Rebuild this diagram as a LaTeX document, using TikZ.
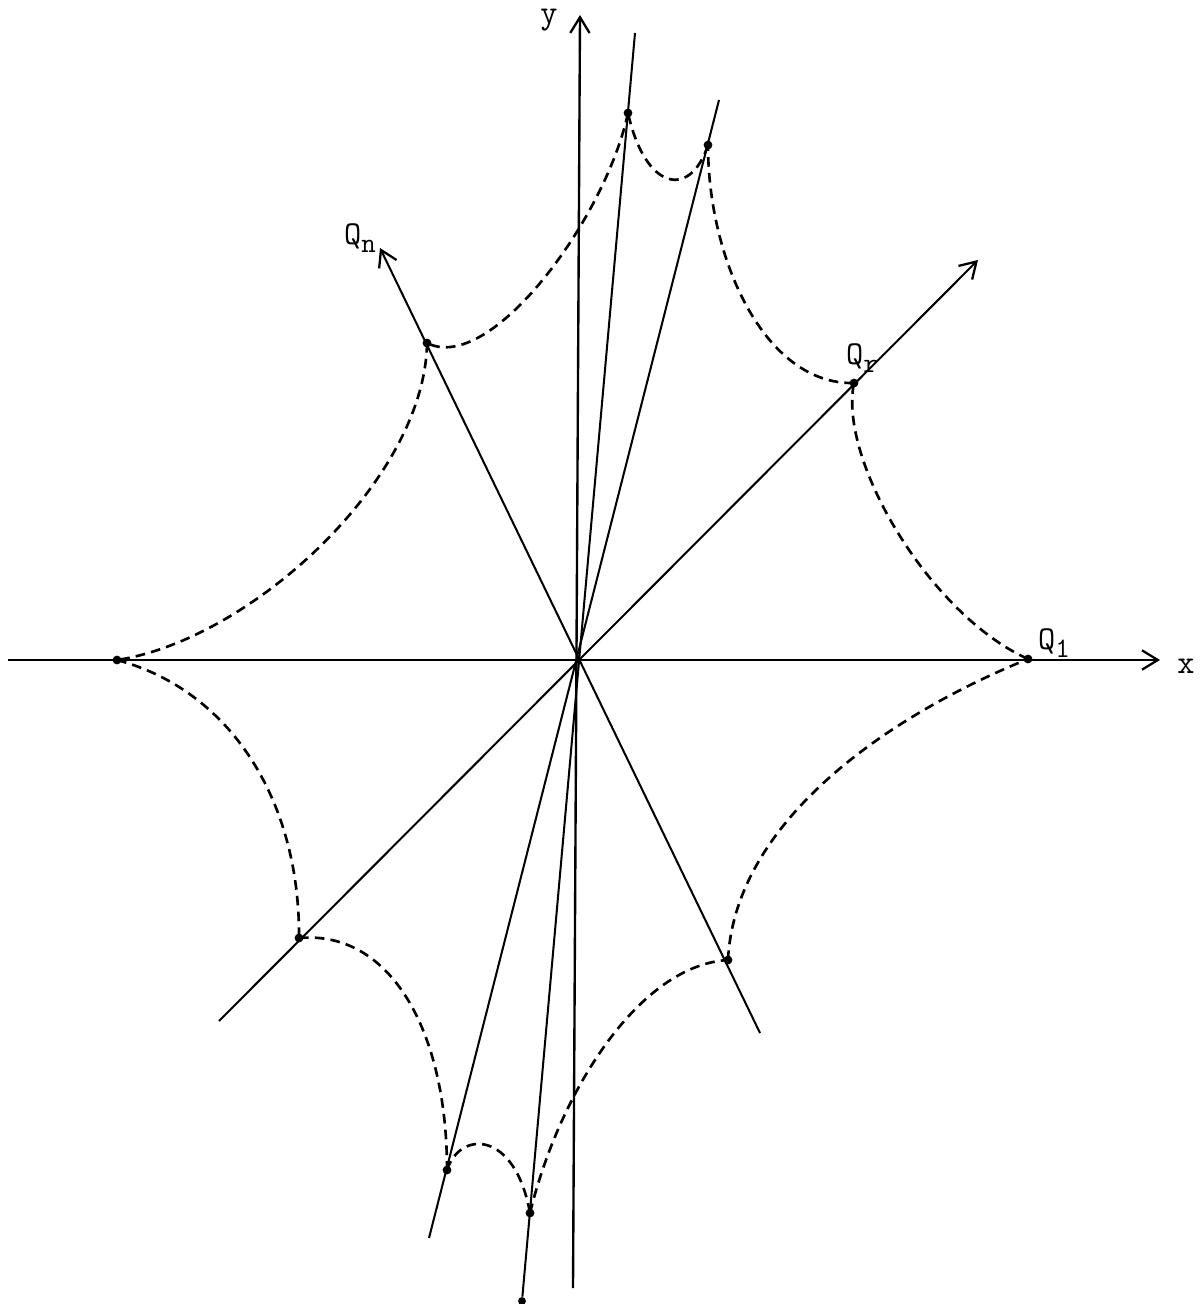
\documentclass[tikz,border=0pt]{standalone}
\usepackage{tikz}
\usetikzlibrary{arrows.meta,calc}
\newcommand{\qlab}[1]{Q\raisebox{-0.55ex}{\fontsize{16}{16}\selectfont #1}}

\begin{document}
\begin{tikzpicture}[x=0.02cm, y=-0.02cm,
    axis/.style={line width=1.35pt, -{Straight Barb[length=9pt,width=11pt,line width=1.3pt]}},
    ray/.style={line width=1.15pt},
    cusp/.style={line width=1.5pt, dash pattern=on 5.5pt off 3.5pt},
    pt/.style={circle, fill, inner sep=0pt, minimum size=5pt},
    lab/.style={font=\ttfamily\fontsize{19}{19}\selectfont}]
      \useasboundingbox (0,0) rectangle (1200,1304);
      % Axes and rays through the origin
      \coordinate (O) at (577,660);
      \coordinate (xs) at (8,660);
      \coordinate (xe) at (1160,660);
      \coordinate (ys) at (573,1288);
      \coordinate (ye) at (580,15);
      \coordinate (re) at (978,260);
      \coordinate (rs) at (219,1021);
      \coordinate (ne) at (380,248);
      \coordinate (ns) at (760,1033);
      \coordinate (ae) at (635,33);
      \coordinate (bs) at (429,1238);
      \coordinate (be) at (719,100);
      \draw[axis] (xs) -- (xe);
      \draw[axis] (ys) -- (ye);
      \draw[axis, line width=1.15pt] (rs) -- (re);
      \draw[axis, line width=1.15pt] (ns) -- (ne);
      \node[pt, minimum size=4.5pt] (as) at (522,1301) {};
      \draw[ray] (as) -- (ae);
      \draw[ray] (bs) -- (be);
      % Points on the rays
      \node[pt] (q1) at (1028,659) {};
      \node[pt] (qr) at (854,383) {};
      \node[pt] (b1) at (708,145) {};
      \node[pt] (a1) at (628,113) {};
      \node[pt] (qn) at (427,343) {};
      \node[pt] (ql) at (117,660) {};
      \node[pt] (rl) at (299,938) {};
      \node[pt] (b2) at (447,1170) {};
      \node[pt] (a2) at (530,1213) {};
      \node[pt] (nl) at (728,960) {};
      % Dashed arcs between neighbouring points
      \draw[cusp] (q1.center) .. controls (930,615) and (838,460) .. (qr.center);
      \draw[cusp] (qr.center) .. controls (765,385) and (708,260) .. (b1.center);
      \draw[cusp] (b1.center) .. controls (690,200) and (645,190) .. (a1.center);
      \draw[cusp] (a1.center) .. controls (605,220) and (490,375) .. (qn.center);
      \draw[cusp] (qn.center) .. controls (425,480) and (250,640) .. (ql.center);
      \draw[cusp] (ql.center) .. controls (230,690) and (300,800) .. (rl.center);
      \draw[cusp] (rl.center) .. controls (390,930) and (447,1030) .. (b2.center);
      \draw[cusp] (b2.center) .. controls (460,1130) and (515,1130) .. (a2.center);
      \draw[cusp] (a2.center) .. controls (560,1090) and (640,965) .. (nl.center);
      \draw[cusp] (nl.center) .. controls (735,820) and (890,715) .. (q1.center);
      % Labels
      \node[lab] (xl) at (1186,666) {x};
      \node[lab] (yl) at (549,20) {y};
      \node[lab] (l1) at (1054,643) {\qlab{1}};
      \node[lab] (lr) at (862,358) {\qlab{r}};
      \node[lab] (ln) at (360,238) {\qlab{n}};
    \end{tikzpicture}
\end{document}
